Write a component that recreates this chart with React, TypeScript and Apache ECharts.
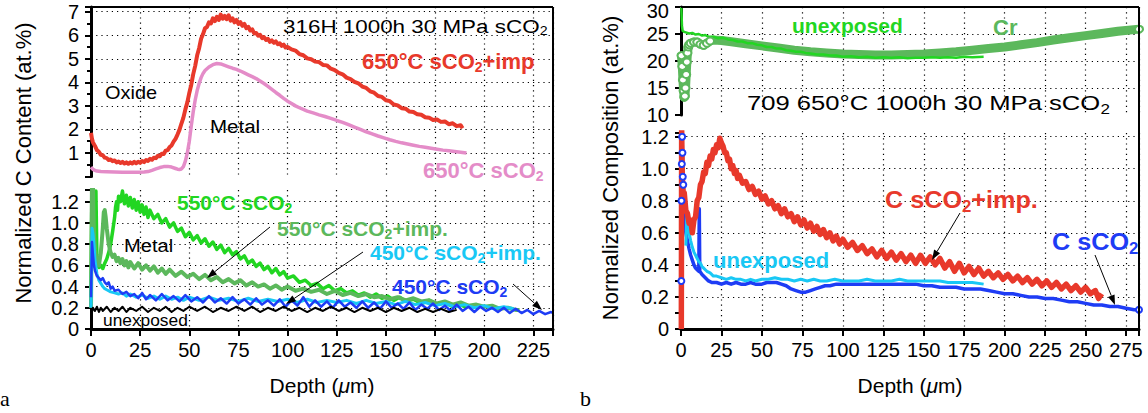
import React, { useEffect, useRef } from 'react';
import * as echarts from 'echarts';

// ---------- DATA (depth in µm, value) ----------
// Panel a, upper (C content at.%)
const a650Imp: [number, number][] = [
  [0,1.85],[0.5,1.6],[1,1.45],[2,1.3],[3,1.12],[4,1.05],[5,0.92],[6,0.9],[7,0.8],[8,0.78],[9,0.7],[10,0.72],[11,0.65],[12,0.68],[13,0.6],[14,0.64],[15,0.57],[16,0.62],[17,0.55],[18,0.6],[19,0.54],[20,0.6],[21,0.55],[22,0.62],[23,0.56],[24,0.63],[25,0.58],[26,0.66],[27,0.61],[28,0.7],[29,0.66],[30,0.75],[31,0.71],[32,0.8],[33,0.78],[34,0.88],[35,0.86],[36,0.97],[37,0.96],[38,1.1],[39,1.12],[40,1.25],[41,1.32],[42,1.48],[43,1.6],[44,1.78],[45,1.98],[46,2.25],[47,2.5],[48,2.85],[49,3.15],[50,3.55],[51,3.9],[52,4.35],[53,4.7],[54,5.15],[55,5.45],[56,5.85],[57,6.05],[58,6.3],[59,6.35],[60,6.55],[61,6.5],[62,6.72],[63,6.6],[64,6.78],[65,6.65],[66,6.88],[67,6.7],[68,6.82],[69,6.68],[70,6.85],[71,6.62],[72,6.72],[73,6.55],[74,6.65],[75,6.48],[76,6.56],[77,6.4],[78,6.48],[79,6.3],[80,6.36],[81,6.2],[82,6.25],[83,6.08],[84,6.1],[85,5.98],[86,6.02],[87,5.88],[88,5.92],[89,5.8],[90,5.85],[91,5.72],[92,5.78],[93,5.68],[94,5.74],[95,5.62],[96,5.66],[97,5.55],[98,5.6],[99,5.48],[100,5.5],[102,5.4],[104,5.35],[106,5.2],[108,5.15],[110,5.02],[112,4.98],[114,4.88],[116,4.86],[118,4.74],[120,4.72],[122,4.58],[124,4.52],[126,4.4],[128,4.34],[130,4.2],[132,4.14],[134,4.02],[136,3.96],[138,3.82],[140,3.76],[142,3.62],[144,3.56],[146,3.42],[148,3.38],[150,3.24],[152,3.2],[154,3.06],[156,3.02],[158,2.9],[160,2.88],[162,2.76],[164,2.74],[166,2.64],[168,2.62],[170,2.52],[172,2.5],[174,2.4],[176,2.42],[178,2.32],[180,2.34],[182,2.22],[184,2.26],[186,2.14],[188,2.18],[189,2.05]
];
const a650: [number, number][] = [
  [0,0.4],[1,0.3],[2,0.26],[3,0.23],[5,0.21],[8,0.2],[12,0.19],[16,0.18],[20,0.18],[24,0.18],[27,0.19],[29,0.21],[31,0.26],[33,0.32],[35,0.38],[37,0.42],[39,0.43],[41,0.4],[43,0.34],[44,0.31],[45,0.3],[46,0.32],[47,0.42],[48,0.65],[49,1.0],[50,1.5],[51,2.15],[52,2.75],[53,3.25],[54,3.65],[55,3.95],[56,4.2],[57,4.38],[58,4.5],[60,4.65],[62,4.75],[64,4.8],[66,4.78],[68,4.72],[70,4.66],[72,4.6],[74,4.55],[76,4.48],[78,4.4],[80,4.32],[82,4.24],[84,4.16],[86,4.06],[88,3.95],[90,3.83],[92,3.7],[94,3.57],[96,3.45],[98,3.32],[100,3.2],[102,3.1],[104,3.0],[106,2.92],[108,2.85],[110,2.78],[113,2.7],[116,2.62],[119,2.55],[122,2.47],[125,2.38],[128,2.3],[131,2.2],[134,2.1],[137,2.0],[140,1.9],[143,1.81],[146,1.72],[149,1.64],[152,1.56],[155,1.49],[158,1.43],[161,1.38],[164,1.33],[167,1.28],[170,1.24],[173,1.2],[176,1.16],[179,1.12],[182,1.09],[185,1.06],[188,1.03],[191,1.0]
];
// Panel a, lower (normalized)
const a550: [number, number][] = [
  [0,0.3],[0.5,1.4],[1,1.4],[1.5,1.1],[2,0.85],[2.5,1.3],[3,0.7],[3.5,0.62],[4,0.58],[5,0.6],[6,0.57],[7,0.62],[8,0.66],[9,0.72],[10,0.8],[11,0.92],[12,1.05],[12.5,1.15],[13,1.2],[13.5,1.12],[14,1.25],[15,1.2],[16,1.3],[17,1.18],[18,1.26],[19,1.16],[20,1.24],[21,1.14],[22,1.22],[23,1.12],[24,1.2],[25,1.1],[26,1.17],[27,1.08],[28,1.15],[29,1.05],[30,1.12],[32,1.04],[34,1.08],[36,1.0],[38,1.04],[40,0.96],[42,1.0],[44,0.92],[46,0.95],[48,0.87],[50,0.91],[52,0.84],[54,0.88],[56,0.81],[58,0.85],[60,0.78],[62,0.82],[64,0.75],[66,0.79],[68,0.72],[70,0.76],[72,0.7],[74,0.73],[76,0.66],[78,0.69],[80,0.62],[82,0.65],[84,0.59],[86,0.62],[88,0.56],[90,0.59],[92,0.53],[94,0.57],[96,0.51],[98,0.54],[100,0.48],[103,0.5],[106,0.44],[109,0.46],[112,0.41],[115,0.43],[118,0.38],[121,0.41],[124,0.36],[127,0.38],[130,0.34],[133,0.36],[136,0.32],[139,0.34],[142,0.3],[145,0.33],[148,0.29],[151,0.31],[154,0.27],[157,0.3],[160,0.26],[164,0.28],[168,0.24],[172,0.27],[176,0.23],[180,0.25],[184,0.21],[188,0.23],[191,0.2]
];
const a550Imp: [number, number][] = [
  [0,0.2],[0.5,1.4],[1,1.35],[1.5,0.9],[2,0.75],[3,0.62],[4,0.6],[5,0.72],[6,0.95],[6.5,1.1],[7,1.12],[7.5,1.05],[8,0.95],[9,0.8],[10,0.72],[11,0.68],[12,0.7],[13,0.64],[14,0.67],[15,0.62],[16,0.66],[17,0.6],[18,0.64],[19,0.58],[20,0.63],[22,0.57],[24,0.62],[26,0.56],[28,0.6],[30,0.55],[32,0.59],[34,0.53],[36,0.57],[38,0.52],[40,0.56],[43,0.5],[46,0.54],[49,0.49],[52,0.52],[55,0.47],[58,0.51],[61,0.46],[64,0.49],[67,0.44],[70,0.47],[73,0.43],[76,0.46],[79,0.41],[82,0.44],[85,0.4],[88,0.42],[91,0.38],[94,0.41],[97,0.37],[100,0.4],[104,0.36],[108,0.38],[112,0.35],[116,0.37],[120,0.33],[124,0.36],[128,0.32],[132,0.34],[136,0.31],[140,0.33],[144,0.3],[148,0.31],[152,0.28],[156,0.3],[160,0.27],[164,0.29],[168,0.26],[172,0.27],[176,0.24],[180,0.26],[184,0.23],[188,0.25],[192,0.22],[196,0.23],[200,0.21],[204,0.22],[208,0.19],[212,0.2],[216,0.18],[218,0.18]
];
const a450Imp: [number, number][] = [
  [0,0.2],[0.5,0.95],[1,0.9],[1.5,0.8],[2,0.65],[3,0.52],[4,0.46],[5,0.43],[6,0.4],[7,0.38],[8,0.37],[10,0.35],[12,0.34],[14,0.33],[16,0.34],[18,0.31],[20,0.33],[23,0.3],[26,0.32],[29,0.29],[32,0.31],[35,0.28],[38,0.31],[41,0.28],[44,0.3],[47,0.27],[50,0.3],[55,0.27],[60,0.3],[65,0.27],[70,0.29],[75,0.26],[80,0.29],[85,0.26],[90,0.28],[95,0.26],[100,0.28],[105,0.25],[110,0.28],[115,0.25],[120,0.27],[125,0.25],[130,0.27],[135,0.24],[140,0.27],[145,0.24],[150,0.26],[155,0.23],[160,0.26],[165,0.23],[170,0.25],[175,0.22],[180,0.24],[185,0.21],[190,0.23],[195,0.2],[200,0.22],[205,0.19],[210,0.21],[215,0.19]
];
const a450: [number, number][] = [
  [0,0.3],[0.5,0.82],[1,0.7],[1.5,0.6],[2,0.55],[3,0.5],[4,0.48],[5,0.46],[6,0.48],[7,0.44],[8,0.42],[9,0.44],[10,0.38],[11,0.4],[12,0.36],[14,0.37],[16,0.33],[18,0.35],[20,0.31],[22,0.33],[24,0.29],[26,0.34],[28,0.28],[30,0.32],[33,0.27],[36,0.33],[39,0.27],[42,0.31],[45,0.26],[48,0.32],[51,0.26],[54,0.3],[57,0.25],[60,0.31],[63,0.25],[66,0.29],[69,0.24],[72,0.3],[75,0.24],[78,0.28],[81,0.23],[84,0.29],[87,0.23],[90,0.27],[93,0.22],[96,0.28],[99,0.21],[102,0.27],[105,0.22],[108,0.3],[111,0.21],[114,0.27],[117,0.21],[120,0.26],[123,0.2],[126,0.27],[129,0.21],[132,0.25],[135,0.2],[138,0.26],[141,0.2],[144,0.25],[147,0.19],[150,0.26],[153,0.2],[156,0.24],[159,0.19],[162,0.25],[165,0.18],[168,0.23],[171,0.19],[174,0.24],[177,0.18],[180,0.22],[183,0.17],[186,0.23],[189,0.17],[192,0.21],[195,0.16],[198,0.21],[201,0.17],[204,0.2],[207,0.16],[210,0.2],[213,0.15],[216,0.19],[219,0.15],[222,0.18],[225,0.14],[228,0.17],[231,0.14],[234,0.16],[235,0.15]
];
const aUnexposed: [number, number][] = [
  [0,0.12],[1,0.2],[2,0.17],[3,0.21],[4,0.16],[5,0.2],[6,0.17],[8,0.21],[10,0.16],[12,0.2],[14,0.17],[16,0.21],[18,0.16],[20,0.2],[23,0.17],[26,0.21],[29,0.16],[32,0.2],[35,0.17],[38,0.21],[41,0.16],[44,0.2],[47,0.17],[50,0.21],[54,0.17],[58,0.21],[62,0.16],[66,0.2],[70,0.17],[74,0.21],[78,0.17],[82,0.21],[86,0.16],[90,0.2],[94,0.17],[98,0.21],[102,0.17],[106,0.2],[110,0.16],[114,0.2],[118,0.17],[122,0.21],[126,0.17],[130,0.2],[134,0.16],[138,0.2],[142,0.17],[146,0.2],[150,0.16],[154,0.2],[158,0.17],[162,0.2],[166,0.16],[170,0.19],[174,0.16],[178,0.19],[182,0.16],[186,0.18]
];
// Panel b, upper (Cr at.%)
const bCr: [number, number][] = [
  [0.3,21],[0.8,19],[1.2,16.5],[1.6,14.5],[2,13.3],[2.4,13.5],[2.8,15],[3.2,17.5],[3.6,19.8],[4,21.5],[4.5,22.6],[5,23],[6,23.3],[8,23.5],[10,23.5],[12,23.1],[14,22.9],[16,23.3],[18,23.7],[20,23.9],[25,23.8],[30,23.6],[40,23.2],[50,22.8],[60,22.4],[70,22.0],[80,21.7],[90,21.5],[100,21.3],[110,21.2],[120,21.1],[130,21.1],[140,21.2],[150,21.3],[160,21.5],[170,21.7],[180,22.0],[190,22.3],[200,22.6],[210,23.0],[220,23.4],[230,23.9],[240,24.3],[250,24.7],[260,25.1],[270,25.5],[283,25.9]
];
const bCrUnexposed: [number, number][] = [
  [0.2,30],[0.6,26.5],[1,25.6],[2,25.4],[3,25.3],[5,25.1],[7,25.2],[9,24.9],[11,25.0],[13,24.7],[15,24.8],[17,24.5],[20,24.5],[23,24.2],[26,24.3],[29,24.0],[32,23.9],[35,23.6],[38,23.6],[41,23.3],[44,23.3],[47,23.0],[50,22.9],[53,22.6],[56,22.6],[59,22.3],[62,22.3],[65,22.0],[68,21.9],[71,21.7],[74,21.7],[77,21.5],[80,21.4],[84,21.2],[88,21.2],[92,21.0],[96,21.0],[100,20.8],[105,20.9],[110,20.7],[115,20.8],[120,20.6],[125,20.7],[130,20.6],[135,20.7],[140,20.5],[145,20.6],[150,20.6],[155,20.7],[160,20.6],[165,20.7],[170,20.6],[175,20.8],[180,20.7],[187,20.8]
];
// Panel b, lower (normalized C)
const bCImp: [number, number][] = [
  [0.2,0],[0.4,1.25],[0.8,0.95],[1.5,0.82],[2,0.85],[3,0.74],[4,0.72],[5,0.66],[6,0.68],[7,0.6],[8,0.68],[9,0.7],[10,0.8],[11,0.82],[12,0.9],[13,0.92],[14,0.98],[15,0.97],[16,1.04],[17,1.02],[18,1.08],[19,1.06],[20,1.12],[21,1.1],[22,1.15],[23,1.13],[24,1.19],[25,1.16],[26,1.14],[27,1.1],[28,1.1],[29,1.05],[30,1.06],[31,1.0],[32,1.02],[33,0.97],[34,0.99],[35,0.94],[36,0.96],[38,0.91],[40,0.92],[42,0.87],[44,0.89],[46,0.84],[48,0.86],[50,0.81],[52,0.83],[54,0.78],[56,0.8],[58,0.75],[60,0.77],[62,0.72],[64,0.75],[66,0.7],[68,0.72],[70,0.67],[72,0.7],[74,0.65],[76,0.68],[78,0.63],[80,0.66],[82,0.61],[84,0.64],[86,0.59],[88,0.62],[90,0.57],[92,0.6],[94,0.55],[96,0.58],[98,0.53],[100,0.56],[103,0.51],[106,0.54],[109,0.49],[112,0.52],[115,0.47],[118,0.5],[121,0.45],[124,0.49],[127,0.44],[130,0.48],[133,0.43],[136,0.47],[139,0.42],[142,0.46],[145,0.41],[148,0.46],[151,0.41],[154,0.45],[157,0.4],[160,0.44],[163,0.38],[166,0.42],[169,0.36],[172,0.41],[175,0.35],[178,0.39],[181,0.34],[184,0.38],[187,0.33],[190,0.36],[193,0.32],[196,0.35],[199,0.31],[202,0.34],[205,0.3],[208,0.33],[211,0.29],[214,0.32],[217,0.28],[220,0.31],[223,0.27],[226,0.3],[229,0.26],[232,0.29],[235,0.25],[238,0.28],[241,0.24],[244,0.27],[247,0.23],[250,0.26],[253,0.22],[256,0.24],[258,0.19],[260,0.22]
];
const bC: [number, number][] = [
  [0.2,0.3],[0.3,0.8],[0.5,1.03],[0.7,1.2],[0.9,1.1],[1.1,0.95],[1.4,0.9],[2,0.72],[2.5,0.66],[3,0.6],[4,0.55],[5,0.5],[6,0.46],[7,0.43],[8,0.4],[9,0.38],[10,0.37],[11,0.36],[11.3,0.75],[11.6,0.36],[13,0.34],[15,0.32],[17,0.3],[19,0.29],[22,0.29],[25,0.28],[28,0.29],[31,0.28],[34,0.29],[37,0.28],[40,0.28],[43,0.29],[46,0.28],[50,0.28],[53,0.29],[56,0.29],[59,0.29],[62,0.28],[65,0.27],[68,0.25],[71,0.24],[74,0.23],[77,0.23],[80,0.24],[83,0.25],[86,0.26],[89,0.27],[92,0.27],[96,0.28],[100,0.28],[105,0.28],[110,0.28],[115,0.28],[120,0.28],[125,0.28],[130,0.28],[135,0.28],[140,0.28],[145,0.28],[150,0.27],[155,0.27],[160,0.26],[165,0.26],[170,0.26],[175,0.25],[180,0.25],[185,0.25],[190,0.24],[195,0.23],[200,0.22],[205,0.22],[210,0.21],[215,0.2],[220,0.2],[225,0.19],[230,0.19],[235,0.18],[240,0.17],[245,0.17],[250,0.16],[255,0.15],[260,0.15],[265,0.14],[270,0.14],[275,0.13],[280,0.12],[283,0.12]
];
const bCUnexposed: [number, number][] = [
  [3,0.52],[3.5,0.68],[4,0.72],[4.5,0.66],[5,0.6],[6,0.55],[7,0.51],[8,0.48],[9,0.46],[10,0.44],[11,0.42],[12,0.41],[13,0.39],[14,0.38],[15,0.37],[16,0.36],[18,0.35],[20,0.33],[22,0.33],[25,0.32],[28,0.31],[31,0.32],[34,0.31],[37,0.31],[40,0.3],[43,0.31],[46,0.3],[50,0.31],[54,0.31],[58,0.32],[62,0.31],[66,0.31],[70,0.3],[74,0.31],[78,0.3],[82,0.31],[86,0.3],[90,0.3],[95,0.31],[100,0.3],[105,0.3],[110,0.3],[115,0.31],[120,0.3],[125,0.3],[130,0.3],[135,0.31],[140,0.3],[145,0.3],[150,0.3],[155,0.3],[160,0.3],[165,0.29],[170,0.29],[175,0.29],[180,0.29],[187,0.28]
];

// ---------- STYLE ----------
const FONT = "'Liberation Sans', Arial, Helvetica, sans-serif";
const RED = '#e8392b';
const PINK = '#e48cc8';
const BGREEN = '#22d622';
const MGREEN = '#5cb85c';
const CYAN = '#19c8f5';
const BLUE = '#1e3cf5';

const G = {
  aL: 91, aR: 553, bL: 681, bR: 1139, top: 7, bottom: 329,
  aUpBottom: 176.5, aLowTop: 190, bUpBottom: 115, bLowTop: 133,
};

function xFmt(v: number) {
  const k = v / 25;
  return Math.abs(k - Math.round(k)) < 1e-6 ? String(Math.round(v)) : '';
}
function y02Fmt(v: number) {
  const k = v / 0.2;
  if (Math.abs(k - Math.round(k)) > 1e-6) return '';
  const r = Math.round(k);
  return r === 0 ? '0' : (r * 0.2).toFixed(1);
}

const dotted = { show: true, showMinLine: false, showMaxLine: false, lineStyle: { color: '#000', type: [1.2, 4], width: 1.2 } };
const labelStyle = { fontSize: 20, color: '#000', fontFamily: FONT };

function xAxis(gridIndex: number, max: number, lower: boolean) {
  return {
    type: 'value', gridIndex, min: 0, max, interval: 25,
    axisLine: { show: lower, onZero: false, lineStyle: { color: '#000', width: 3 } },
    axisTick: { show: lower, length: 7, lineStyle: { color: '#000', width: 2 } },
    axisLabel: { show: lower, ...labelStyle, margin: 11, formatter: xFmt },
    splitLine: { show: true, lineStyle: { color: '#000', type: [1.2, 4], width: 1.2 } },
    name: lower ? 'Depth ({i|μ}m)' : '',
    nameLocation: 'middle', nameGap: 46,
    nameTextStyle: { fontSize: 21, color: '#000', fontFamily: FONT, rich: { i: { fontSize: 21, fontStyle: 'italic', fontFamily: FONT, color: '#000' } } },
  };
}
function yAxis(gridIndex: number, min: number, max: number, interval: number, fmt: any, minor: number) {
  return {
    type: 'value', gridIndex, min, max, interval,
    axisLine: { show: true, onZero: false, lineStyle: { color: '#000', width: 3 } },
    axisTick: { show: true, length: 6, lineStyle: { color: '#000', width: 2 } },
    minorTick: { show: minor > 0, splitNumber: 2, length: minor, lineStyle: { color: '#000', width: 2 } },
    axisLabel: {
      ...labelStyle, margin: 12, formatter: fmt,
      rich: { t: { fontSize: 20, color: '#000', fontFamily: FONT, padding: [7, 0, 0, 0] } },
    },
    splitLine: dotted,
  };
}

function lineSeries(data: any[], x: number, color: string, width: number, z = 2, extra: any = {}) {
  return {
    type: 'line', xAxisIndex: x, yAxisIndex: x, data, z,
    showSymbol: false, symbol: 'none', silent: true, clip: true,
    lineStyle: { color, width, join: 'round' }, itemStyle: { color },
    ...extra,
  };
}

function rich(text: string, x: number, y: number, color: string, size: number, bold: boolean, scaleX = 1) {
  const w = bold ? 'bold' : 'normal';
  return {
    type: 'text', x, y, scaleX, z: 100,
    style: {
      text, fill: color, fontSize: size, fontWeight: w, fontFamily: FONT,
      textAlign: 'left', textVerticalAlign: 'middle',
      rich: {
        m: { fontSize: size, fontWeight: w, fontFamily: FONT, fill: color },
        s: { fontSize: Math.round(size * 0.65), fontWeight: w, fontFamily: FONT, fill: color, padding: [Math.round(size * 0.55), 0, 0, 0] },
      },
    },
  };
}

function arrow(x1: number, y1: number, x2: number, y2: number) {
  const a = Math.atan2(y2 - y1, x2 - x1);
  const L = 10, Wd = 3.5;
  const bx = x2 - L * Math.cos(a), by = y2 - L * Math.sin(a);
  return [
    { type: 'line', z: 100, shape: { x1, y1, x2: bx, y2: by }, style: { stroke: '#000', lineWidth: 1 } },
    { type: 'polygon', z: 100, shape: { points: [[x2, y2], [bx + Wd * Math.sin(a), by - Wd * Math.cos(a)], [bx - Wd * Math.sin(a), by + Wd * Math.cos(a)]] }, style: { fill: '#000' } },
  ];
}

function frameLine(x1: number, y1: number, x2: number, y2: number) {
  return { type: 'line', z: 90, shape: { x1, y1, x2, y2 }, style: { stroke: '#000', lineWidth: 2 } };
}

const crData = bCr.map(([x, y], i) =>
  x < 20 || i === bCr.length - 1
    ? { value: [x, y], symbol: 'emptyCircle', symbolSize: [8, 7] }
    : { value: [x, y], symbol: 'none' });
const bCData = bC.map(([x, y], i) =>
  x <= 1.4 || i === bC.length - 1
    ? { value: [x, y], symbol: 'emptyCircle', symbolSize: 6 }
    : { value: [x, y], symbol: 'none' });

const option: any = {
  animation: false,
  backgroundColor: '#fff',
  grid: [
    { left: G.aL, top: G.top, width: G.aR - G.aL, height: G.aUpBottom - G.top, containLabel: false, outerBoundsMode: 'none' },
    { left: G.aL, top: G.aLowTop, width: G.aR - G.aL, height: G.bottom - G.aLowTop, containLabel: false, outerBoundsMode: 'none' },
    { left: G.bL, top: G.top, width: G.bR - G.bL, height: G.bUpBottom - G.top, containLabel: false, outerBoundsMode: 'none' },
    { left: G.bL, top: G.bLowTop, width: G.bR - G.bL, height: G.bottom - G.bLowTop, containLabel: false, outerBoundsMode: 'none' },
  ],
  xAxis: [xAxis(0, 235, false), xAxis(1, 235, true), xAxis(2, 283, false), xAxis(3, 283, true)],
  yAxis: [
    yAxis(0, 0, 7.2, 1, (v: number) => (Number.isInteger(v) && v >= 1 && v <= 7 ? String(v) : ''), 4),
    yAxis(1, 0, 1.31, 0.2, y02Fmt, 0),
    yAxis(2, 10, 30, 5, (v: number) => (v === 30 ? '{t|30}' : String(v)), 0),
    yAxis(3, 0, 1.223, 0.2, y02Fmt, 6),
  ],
  series: [
    lineSeries(a650, 0, PINK, 3.5),
    lineSeries(a650Imp, 0, RED, 4),
    lineSeries(a550, 1, BGREEN, 3.5),
    lineSeries(a550Imp, 1, MGREEN, 4),
    lineSeries(a450Imp, 1, CYAN, 3),
    lineSeries(a450, 1, BLUE, 2.5),
    lineSeries(aUnexposed, 1, '#000', 2),
    lineSeries(crData, 2, MGREEN, 9, 2, { showSymbol: true, showAllSymbol: true, symbol: 'emptyCircle', itemStyle: { color: MGREEN, borderWidth: 1.5 } }),
    lineSeries(bCrUnexposed, 2, BGREEN, 2.5),
    lineSeries(bCData, 3, BLUE, 3.5, 2, { showSymbol: true, showAllSymbol: true, symbol: 'emptyCircle', itemStyle: { color: BLUE, borderWidth: 1.5 } }),
    lineSeries(bCUnexposed, 3, CYAN, 3),
    lineSeries(bCImp, 3, RED, 5.5),
  ],
  graphic: [
    frameLine(G.aL, G.top, G.aR, G.top),
    frameLine(G.aR, G.top, G.aR, G.bottom),
    frameLine(G.bL, G.top, G.bR, G.top),
    frameLine(G.bR, G.top, G.bR, G.bottom),
    {
      type: 'text', x: 23, y: 163, rotation: Math.PI / 2, z: 100,
      style: { text: 'Normalized C Content (at.%)', fill: '#000', fontSize: 22, fontFamily: FONT, textAlign: 'center', textVerticalAlign: 'middle' },
    },
    {
      type: 'text', x: 610, y: 168, rotation: Math.PI / 2, z: 100,
      style: { text: 'Normalized Composition (at.%)', fill: '#000', fontSize: 22, fontFamily: FONT, textAlign: 'center', textVerticalAlign: 'middle' },
    },
    { type: 'text', x: 0, y: 398, z: 100, style: { text: 'a', fill: '#000', fontSize: 22, fontFamily: "'Liberation Serif', 'Times New Roman', serif", textAlign: 'left', textVerticalAlign: 'middle' } },
    { type: 'text', x: 580, y: 398, z: 100, style: { text: 'b', fill: '#000', fontSize: 22, fontFamily: "'Liberation Serif', 'Times New Roman', serif", textAlign: 'left', textVerticalAlign: 'middle' } },
    // panel a annotations
    rich('{m|316H 1000h 30 MPa sCO}{s|2}', 283, 26, '#000', 19, false, 1.18),
    rich('{m|650°C sCO}{s|2}{m|+imp}', 362, 61, RED, 22, true),
    rich('{m|650°C sCO}{s|2}', 423, 170, PINK, 22, true),
    rich('{m|Oxide}', 105, 92, '#000', 19, false, 1.05),
    rich('{m|Metal}', 210, 126, '#000', 19, false, 1.08),
    rich('{m|550°C sCO}{s|2}', 177, 202, BGREEN, 21, true),
    rich('{m|550°C sCO}{s|2}{m|+imp.}', 277, 228, MGREEN, 21, true),
    rich('{m|Metal}', 124, 245, '#000', 19, false, 1.06),
    rich('{m|450°C sCO}{s|2}{m|+imp.}', 370, 252, CYAN, 21, true),
    rich('{m|450°C sCO}{s|2}', 392, 286, BLUE, 21, true),
    rich('{m|unexposed}', 103, 320, '#000', 17, false, 1.02),
    ...arrow(270, 227, 207, 278),
    ...arrow(363, 252, 286, 304),
    ...arrow(513, 284, 542, 310),
    // panel b annotations
    rich('{m|unexposed}', 792, 25, BGREEN, 21, true),
    rich('{m|Cr}', 993, 27, MGREEN, 22, true),
    rich('{m|709 650°C 1000h 30 MPa sCO}{s|2}', 747, 103, '#000', 21, false, 1.22),
    rich('{m|C sCO}{s|2}{m|+imp.}', 885, 200, RED, 24, true, 1.05),
    rich('{m|C sCO}{s|2}', 1052, 242, BLUE, 24, true, 1.05),
    rich('{m|unexposed}', 713, 260, CYAN, 22, true),
    ...arrow(960, 213, 932, 260),
    ...arrow(1095, 255, 1115, 305),
  ],
};

export default function App() {
  const ref = useRef<HTMLDivElement>(null);
  useEffect(() => {
    const chart = echarts.init(ref.current as HTMLDivElement, null, { renderer: 'svg' });
    chart.setOption(option);
    return () => chart.dispose();
  }, []);
  return (
    <div
      ref={ref}
      style={{ position: 'absolute', left: 0, top: 0, width: 1148, height: 413, background: '#fff' }}
    />
  );
}
